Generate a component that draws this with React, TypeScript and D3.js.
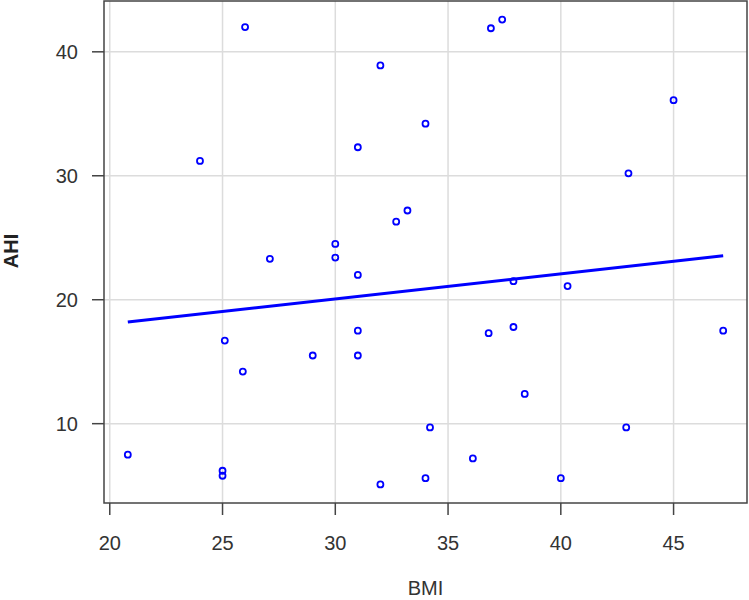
import React from "react";
import { scaleLinear, extent, line, mean, sum } from "d3";

// BMI vs AHI
const bmi = [
  26, 32, 31, 24, 33.2, 32.7, 30, 30, 27.1,
  36.9, 37.4, 34, 45, 43,
  31, 25.1, 29, 31, 31, 25.9, 20.8, 25, 25, 32,
  37.9, 40.3, 36.8, 37.9, 47.2, 38.4, 34.2, 42.9, 36.1, 34, 40,
];
const ahi = [
  42, 38.9, 32.3, 31.2, 27.2, 26.3, 24.5, 23.4, 23.3,
  41.9, 42.6, 34.2, 36.1, 30.2,
  22, 16.7, 15.5, 17.5, 15.5, 14.2, 7.5, 6.2, 5.8, 5.1,
  21.5, 21.1, 17.3, 17.8, 17.5, 12.4, 9.7, 9.7, 7.2, 5.6, 5.6,
];
const xTicks = [20, 25, 30, 35, 40, 45];
const yTicks = [10, 20, 30, 40];

const pad = (ext: [number, number]) => {
  const d = (ext[1] - ext[0]) * 0.04;
  return [ext[0] - d, ext[1] + d];
};

export default function App() {
  const width = 749;
  const height = 600;
  const left = 104;
  const right = 747;
  const top = 1;
  const bottom = 503;
  const font = "'Liberation Sans', Arial, sans-serif";
  const textColor = "#333";

  const xExt = extent(bmi) as [number, number];
  const xScale = scaleLinear().domain(pad(xExt)).range([left, right]);
  const yScale = scaleLinear()
    .domain(pad(extent(ahi) as [number, number]))
    .range([bottom, top]);

  // least squares fit
  const mx = mean(bmi) as number;
  const my = mean(ahi) as number;
  const slope =
    sum(bmi, (x, i) => (x - mx) * (ahi[i] - my)) /
    sum(bmi, (x) => (x - mx) * (x - mx));
  const intercept = my - slope * mx;
  const fitLine = line<number>()
    .x((d) => xScale(d))
    .y((d) => yScale(intercept + slope * d));

  return (
    <svg
      width={width}
      height={height}
      style={{ position: "absolute", left: 0, top: 0, background: "#fff" }}
      fontFamily={font}
    >
      {xTicks.map((t) => (
        <line key={"gx" + t} x1={xScale(t)} x2={xScale(t)} y1={top} y2={bottom} stroke="#dcdcdc" strokeWidth={1.5} />
      ))}
      {yTicks.map((t) => (
        <line key={"gy" + t} x1={left} x2={right} y1={yScale(t)} y2={yScale(t)} stroke="#dcdcdc" strokeWidth={1.5} />
      ))}

      <path d={fitLine(xExt) || ""} fill="none" stroke="#0000ff" strokeWidth={3} />

      {bmi.map((b, i) => (
        <circle key={i} cx={xScale(b)} cy={yScale(ahi[i])} r={3} fill="none" stroke="#0000ff" strokeWidth={1.8} />
      ))}

      <rect x={left} y={top} width={right - left} height={bottom - top} fill="none" stroke="#444" strokeWidth={1.5} />

      {xTicks.map((t) => (
        <g key={"tx" + t}>
          <line x1={xScale(t)} x2={xScale(t)} y1={bottom} y2={bottom + 12} stroke="#444" strokeWidth={1.5} />
          <text x={xScale(t)} y={550} textAnchor="middle" fontSize={20} fill={textColor}>
            {t}
          </text>
        </g>
      ))}
      {yTicks.map((t) => (
        <g key={"ty" + t}>
          <line x1={left - 12} x2={left} y1={yScale(t)} y2={yScale(t)} stroke="#444" strokeWidth={1.5} />
          <text x={78} y={yScale(t) + 7} textAnchor="end" fontSize={20} fill={textColor}>
            {t}
          </text>
        </g>
      ))}

      <text x={(left + right) / 2} y={595} textAnchor="middle" fontSize={20} fill={textColor}>
        BMI
      </text>
      <text
        transform={`translate(18, 251) rotate(-90)`}
        textAnchor="middle"
        fontSize={20}
        fill="#222"
        fontWeight="bold"
      >
        AHI
      </text>
    </svg>
  );
}
